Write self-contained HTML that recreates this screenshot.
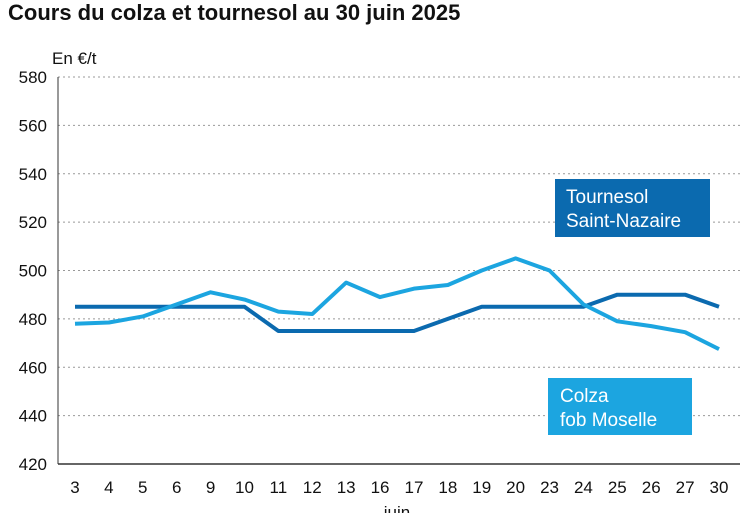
<!DOCTYPE html>
<html><head><meta charset="utf-8"><style>
body{margin:0;background:#fff;width:747px;height:513px;overflow:hidden;font-family:"Liberation Sans",sans-serif}
svg{display:block}
</style></head><body>
<svg width="747" height="513">
<text x="8" y="20" font-size="22" font-weight="bold" fill="#111">Cours du colza et tournesol au 30 juin 2025</text>
<text x="52" y="64" font-size="17" fill="#111">En €/t</text>
<g id="grid"></g><g id="yticks"></g><g id="xticks"></g><g id="lines"></g>
<line x1="58" y1="77" x2="58" y2="464" stroke="#333" stroke-width="1"/>
<line x1="58" y1="464" x2="740" y2="464" stroke="#333" stroke-width="1.5"/>
<text x="397" y="518" font-size="17" text-anchor="middle" fill="#111">juin</text>
<g>
<rect x="555" y="179" width="155" height="58" fill="#0b6aaf"/>
<text x="566" y="203" font-size="19" fill="#fff">Tournesol</text>
<text x="566" y="227" font-size="19" fill="#fff">Saint-Nazaire</text></g>
<g>
<rect x="548" y="378" width="144" height="57" fill="#1ca5e0"/>
<text x="560" y="402" font-size="19" fill="#fff">Colza</text>
<text x="560" y="426" font-size="19" fill="#fff">fob Moselle</text></g>
</svg>
<script>
const categories=["3","4","5","6","9","10","11","12","13","16","17","18","19","20","23","24","25","26","27","30"];
const tournesol=[485,485,485,485,485,485,475,475,475,475,475,480,485,485,485,485,490,490,490,485];
const colza=[478,478.5,481,486,491,488,483,482,495,489,492.5,494,500,505,500,486,479,477,474.5,467.5];
const yTicks=[420,440,460,480,500,520,540,560,580];
const NS="http://www.w3.org/2000/svg";
const x=i=>75+i*(719-75)/(categories.length-1);
const y=v=>464-(v-420)*(464-77)/160;
function mk(t,a,p){const e=document.createElementNS(NS,t);for(const k in a)e.setAttribute(k,a[k]);document.getElementById(p).appendChild(e);return e;}
yTicks.forEach(v=>{
 if(v>420){const g=mk('line',{x1:58,x2:740,y1:y(v),y2:y(v),stroke:'#999','stroke-dasharray':'2,3'},'grid');
 
 }
 const t=mk('text',{x:47,y:y(v)+6,'font-size':17,'text-anchor':'end',fill:'#111'},'yticks');t.textContent=v;
 
 
});
categories.forEach((c,i)=>{
 const t=mk('text',{x:x(i),y:493,'font-size':17,'text-anchor':'middle',fill:'#111'},'xticks');t.textContent=c;
 
 
});
function line(d,col,name){
 const p=mk('polyline',{points:d.map((v,i)=>x(i)+','+y(v)).join(' '),fill:'none',stroke:col,'stroke-width':4,'stroke-linejoin':'round'},'lines');
 
 
}
line(tournesol,'#0b6aaf','tournesol-line');
line(colza,'#1ca5e0','colza-line');
</script>
</body></html>
